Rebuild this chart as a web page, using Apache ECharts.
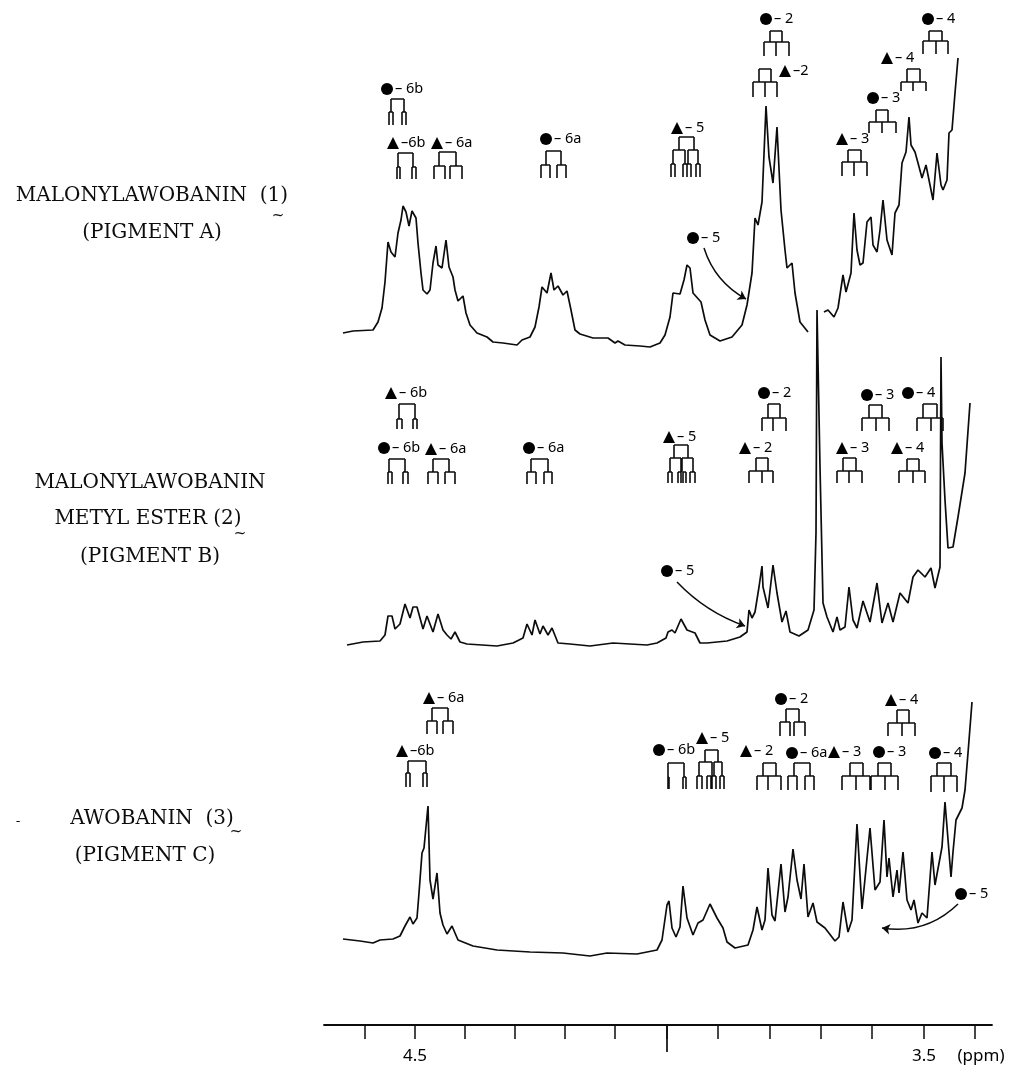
<!DOCTYPE html>
<html><head><meta charset="utf-8">
<style>html,body{margin:0;padding:0;background:#fff}#c{width:1017px;height:1069px}</style>
<script src="https://cdn.jsdelivr.net/npm/echarts@6/dist/echarts.min.js"></script></head>
<body><div id="c"></div>
<script>
// x: chart position measured from the 4.5 ppm mark (509 units = 1 ppm); y: trace height above each baseline
const spectrumA = [[-72,13],[-62,15],[-42,16],[-37,24],[-33,38],[-30,64],[-27,104],[-24,94],[-20,89],[-17,113],[-14,126],[-12,140],[-9,134],[-6,120],[-3,135],[1,128],[3,103],[6,73],[8,56],[12,52],[15,56],[18,83],[21,100],[23,81],[27,78],[31,106],[34,79],[38,69],[40,56],[43,45],[48,50],[51,33],[55,21],[62,13],[72,9],[78,4],[88,3],[102,1],[107,6],[115,9],[120,19],[124,39],[127,59],[132,53],[136,73],[139,56],[143,60],[148,51],[152,55],[156,36],[160,16],[165,12],[178,8],[193,8],[200,3],[203,5],[210,1],[225,0],[235,-1],[245,3],[250,11],[255,29],[258,53],[265,52],[269,66],[272,81],[275,78],[278,53],[286,44],[290,26],[295,11],[305,5],[317,9],[327,21],[332,41],[337,73],[340,128],[343,121],[347,144],[351,240],[354,189],[358,163],[362,219],[366,136],[370,96],[372,78],[377,83],[380,53],[385,24],[393,14],[null,null],[409,34],[413,36],[419,29],[423,38],[428,71],[431,54],[436,73],[439,133],[442,96],[445,81],[448,83],[452,124],[456,129],[458,101],[462,94],[465,116],[468,146],[472,106],[477,91],[480,133],[484,141],[487,183],[491,194],[494,229],[496,201],[500,194],[503,183],[507,168],[511,181],[518,146],[522,193],[526,161],[528,156],[532,166],[534,213],[537,216],[540,253],[543,288]];
const spectrumB = [[-68,1],[-52,4],[-35,5],[-30,11],[-27,30],[-23,30],[-20,17],[-15,22],[-10,42],[-5,28],[-2,39],[2,39],[8,17],[12,30],[18,14],[23,32],[28,16],[32,11],[36,7],[40,14],[45,4],[52,2],[82,0],[98,3],[108,8],[112,22],[117,11],[120,26],[125,12],[128,20],[133,11],[137,18],[143,3],[155,2],[175,0],[198,3],[232,1],[242,3],[251,8],[253,14],[257,16],[260,13],[266,27],[272,16],[280,13],[285,3],[292,3],[312,5],[325,9],[332,14],[334,36],[337,28],[340,34],[344,59],[347,80],[348,59],[353,38],[358,81],[362,53],[367,24],[371,35],[375,14],[384,10],[393,16],[399,36],[401,113],[402,336],[405,179],[408,43],[412,29],[418,14],[422,29],[425,16],[430,19],[434,59],[438,26],[442,18],[448,45],[455,24],[462,63],[467,23],[473,43],[478,24],[485,53],[493,43],[498,69],[503,76],[510,69],[516,78],[520,58],[525,79],[526,289],[527,203],[530,146],[533,98],[538,99],[543,129],[550,173],[555,243]];
const spectrumC = [[-72,16],[-55,14],[-42,12],[-35,15],[-22,16],[-15,19],[-10,29],[-5,38],[-2,31],[2,37],[4,62],[7,102],[9,107],[13,149],[15,75],[18,56],[22,82],[25,42],[28,30],[32,21],[37,29],[43,15],[58,9],[82,5],[115,3],[148,2],[175,-1],[192,2],[222,1],[242,5],[247,15],[252,50],[254,54],[257,27],[261,18],[265,28],[268,69],[272,37],[278,20],[283,32],[288,35],[295,51],[302,37],[308,27],[312,13],[320,7],[333,10],[338,25],[342,48],[347,25],[350,35],[353,87],[357,40],[360,34],[366,91],[370,43],[373,58],[378,106],[382,75],[386,56],[389,91],[393,38],[398,52],[402,33],[410,27],[420,14],[424,18],[428,53],[433,23],[437,35],[442,131],[447,46],[455,127],[460,65],[465,73],[469,135],[472,78],[474,97],[478,58],[482,85],[484,62],[488,103],[492,55],[496,45],[499,55],[503,32],[507,42],[512,37],[517,103],[520,70],[527,108],[530,153],[536,78],[538,103],[541,135],[547,147],[550,165],[553,202],[557,253]];

// assignment labels: position, symbol (c circle, t triangle), text
const labelsA = [[-28,257,'c','– 6b'],[-22,203,'t','–6b'],[22,203,'t','– 6a'],[131,207,'c','– 6a'],[262,218,'t','– 5'],[278,108,'c','– 5'],[351,327,'c','– 2'],[370,275,'t','–2'],[427,207,'t','– 3'],[458,248,'c','– 3'],[472,288,'t','– 4'],[513,327,'c','– 4']];
const labelsB = [[-24,253,'t','– 6b'],[-31,198,'c','– 6b'],[16,197,'t','– 6a'],[114,198,'c','– 6a'],[254,209,'t','– 5'],[252,75,'c','– 5'],[349,253,'c','– 2'],[330,198,'t','– 2'],[427,198,'t','– 3'],[452,251,'c','– 3'],[482,198,'t','– 4'],[493,253,'c','– 4']];
const labelsC = [[14,257,'t','– 6a'],[-13,204,'t','–6b'],[244,205,'c','– 6b'],[287,217,'t','– 5'],[366,256,'c','– 2'],[331,204,'t','– 2'],[377,202,'c','– 6a'],[419,203,'t','– 3'],[464,203,'c','– 3'],[476,255,'t','– 4'],[520,202,'c','– 4'],[546,61,'c','– 5']];

// multiplet trees: level heights, then the line groups at each level
const treesA = [
 [[247,234,221],[[-24,-11]],[[-26,-22],[-13,-9]]],
 [[193,179,167],[[-17,-2]],[[-18,-15],[-3,1]]],
 [[194,180,167],[[24,41]],[[19,30],[35,47]]],
 [[195,181,168],[[131,146]],[[126,135],[142,151]]],
 [[209,196,182,169],[[264,279]],[[258,270],[273,283]],[[256,260],[268,272],[272,276],[281,285]]],
 [[315,304,290],[[355,367]],[[349,361,374]]],
 [[277,264,249],[[344,356]],[[338,350,362]]],
 [[196,184,170],[[433,446]],[[427,439,452]]],
 [[236,224,213],[[461,473]],[[454,467,481]]],
 [[277,264,255],[[492,505]],[[486,498,511]]],
 [[315,305,292],[[514,527]],[[508,521,533]]]];
const treesB = [
 [[242,227,217],[[-16,0]],[[-18,-13],[-2,2]]],
 [[187,174,162],[[-26,-10]],[[-27,-23],[-12,-7]]],
 [[187,174,162],[[18,34]],[[13,23],[30,40]]],
 [[187,174,162],[[116,133]],[[112,121],[129,137]]],
 [[201,188,174,163],[[259,273]],[[255,266],[267,278]],[[253,257],[263,266],[268,271],[275,280]]],
 [[242,228,215],[[353,365]],[[347,358,371]]],
 [[188,175,163],[[341,353]],[[334,347,358]]],
 [[188,175,163],[[428,441]],[[422,434,447]]],
 [[241,228,215],[[454,467]],[[447,461,474]]],
 [[187,175,163],[[492,504]],[[484,498,510]]],
 [[242,228,215],[[508,522]],[[502,516,528]]]];
const treesC = [
 [[247,234,221],[[17,33]],[[12,22],[28,38]]],
 [[194,182,168],[[-7,11]],[[-9,-5],[8,12]]],
 [[192,178,166],[[253,269]],[[253,254],[268,271]]],
 [[205,193,179,166],[[290,303]],[[284,297],[299,307]],[[282,287],[292,296],[297,301],[305,309]]],
 [[246,233,219],[[371,384]],[[365,375],[379,390]]],
 [[192,179,165],[[348,361]],[[342,353,366]]],
 [[192,179,165],[[379,395]],[[373,382],[390,399]]],
 [[192,179,165],[[435,448]],[[427,441,455]]],
 [[192,179,165],[[463,476]],[[456,470,483]]],
 [[245,232,219],[[482,494]],[[473,487,500]]],
 [[192,179,163],[[522,536]],[[516,529,542]]]];

// curved arrows: from, to, curvature
const arrowsA = [[[289,98],[331,47],-0.2]];
const arrowsB = [[[262,64],[330,20],-0.12]];
const arrowsC = [[[543,51],[467,27],0.25]];

const axisTicks = [-50,0,50,100,150,200,251.5,302.5,355,406,457,509,560];
const axisMajorTick = [251.5];
const axisLabels = {0:'4.5',509:'3.5',566:'(ppm)'};
const compoundNames = [
 ['MALONYLAWOBANIN  (1)',152,196],['(PIGMENT A)',152,233],
 ['MALONYLAWOBANIN',150,483],['METYL ESTER (2)',148,519],['(PIGMENT B)',150,557],
 ['AWOBANIN  (3)',152,819],['(PIGMENT C)',145,856]];
const underlineMarks = [[278,216],[240,534],[236,832]];
const stray = [[18,822,'-']];

const XMIN=-91, XMAX=577, INK='#0c0c0c';
const chart = echarts.init(document.getElementById('c'),null,{renderer:'canvas'});

function treeSegments(trees){
  const out=[];
  trees.forEach(t=>{
    const ys=t[0];
    t.slice(1).forEach((groups,i)=>{
      groups.forEach(g=>{
        out.push([g[0],ys[i]],[g[g.length-1],ys[i]],[null,null]);
        g.forEach(x=>out.push([x,ys[i]],[x,ys[i+1]],[null,null]));
      });
    });
  });
  return out;
}
const panels=[
 {top:0,h:356,ymax:346,s:spectrumA,l:labelsA,t:treesA,a:arrowsA},
 {top:300,h:356,ymax:346,s:spectrumB,l:labelsB,t:treesB,a:arrowsB},
 {top:655,h:310,ymax:300,s:spectrumC,l:labelsC,t:treesC,a:arrowsC}];
const grid=[],xAxis=[],yAxis=[],series=[];
panels.forEach((p,i)=>{
  grid.push({left:324,width:XMAX-XMIN,top:p.top,height:p.h});
  xAxis.push({type:'value',gridIndex:i,min:XMIN,max:XMAX,show:false});
  yAxis.push({type:'value',gridIndex:i,min:-10,max:p.ymax,show:false});
  const base={xAxisIndex:i,yAxisIndex:i,silent:true,animation:false};
  series.push({...base,type:'line',name:'spectrum '+i,data:p.s,showSymbol:false,clip:false,
    lineStyle:{color:INK,width:1.7}});
  series.push({...base,type:'line',name:'trees '+i,data:treeSegments(p.t),showSymbol:false,clip:false,
    lineStyle:{color:INK,width:1.6}});
  series.push({...base,type:'scatter',name:'labels '+i,data:p.l,clip:false,
    symbol:d=>d[2]==='c'?'circle':'triangle',symbolSize:12,itemStyle:{color:'#000',opacity:1},
    label:{show:true,position:'right',distance:2,color:'#000',fontFamily:'Noto Sans',fontSize:14.5,
      formatter:q=>q.data[3]}});
  series.push({...base,type:'lines',name:'arrows '+i,coordinateSystem:'cartesian2d',
    symbol:['none','arrow'],symbolSize:8,
    data:p.a.map(a=>({coords:[a[0],a[1]],lineStyle:{curveness:a[2]}})),
    lineStyle:{color:INK,width:1.5,opacity:1}});
});
// ppm scale
grid.push({left:324,width:XMAX-XMIN,top:1024,height:1});
yAxis.push({type:'value',gridIndex:3,min:0,max:1,show:false});
xAxis.push({type:'value',gridIndex:3,min:XMIN,max:XMAX,position:'bottom',
  axisLine:{show:true,onZero:false,lineStyle:{color:INK,width:1.8}},
  splitLine:{show:false},
  axisTick:{show:true,customValues:axisTicks,length:14,lineStyle:{color:INK,width:1.5}},
  axisLabel:{show:true,customValues:Object.keys(axisLabels).map(Number),margin:23,color:'#000',
    fontFamily:'Noto Sans',fontSize:17,hideOverlap:false,formatter:v=>axisLabels[v]||''}});
xAxis.push({type:'value',gridIndex:3,min:XMIN,max:XMAX,position:'bottom',
  axisLine:{show:false},splitLine:{show:false},axisLabel:{show:false},
  axisTick:{show:true,customValues:axisMajorTick,length:27,lineStyle:{color:INK,width:1.7}}});

const graphic=[];
compoundNames.forEach(n=>graphic.push({type:'text',x:n[1],y:n[2],silent:true,
  style:{text:n[0],x:0,y:0,align:'center',verticalAlign:'middle',fill:INK,font:'20px "DejaVu Serif"'}}));
underlineMarks.forEach(u=>graphic.push({type:'text',x:u[0],y:u[1],silent:true,
  style:{text:'~',x:0,y:0,align:'center',verticalAlign:'middle',fill:INK,font:'15px "DejaVu Sans"'}}));
stray.forEach(u=>graphic.push({type:'text',x:u[0],y:u[1],silent:true,
  style:{text:u[2],x:0,y:0,align:'center',verticalAlign:'middle',fill:INK,font:'13px "DejaVu Sans"'}}));

chart.setOption({backgroundColor:'#fff',animation:false,grid,xAxis,yAxis,series,graphic});
</script></body></html>
